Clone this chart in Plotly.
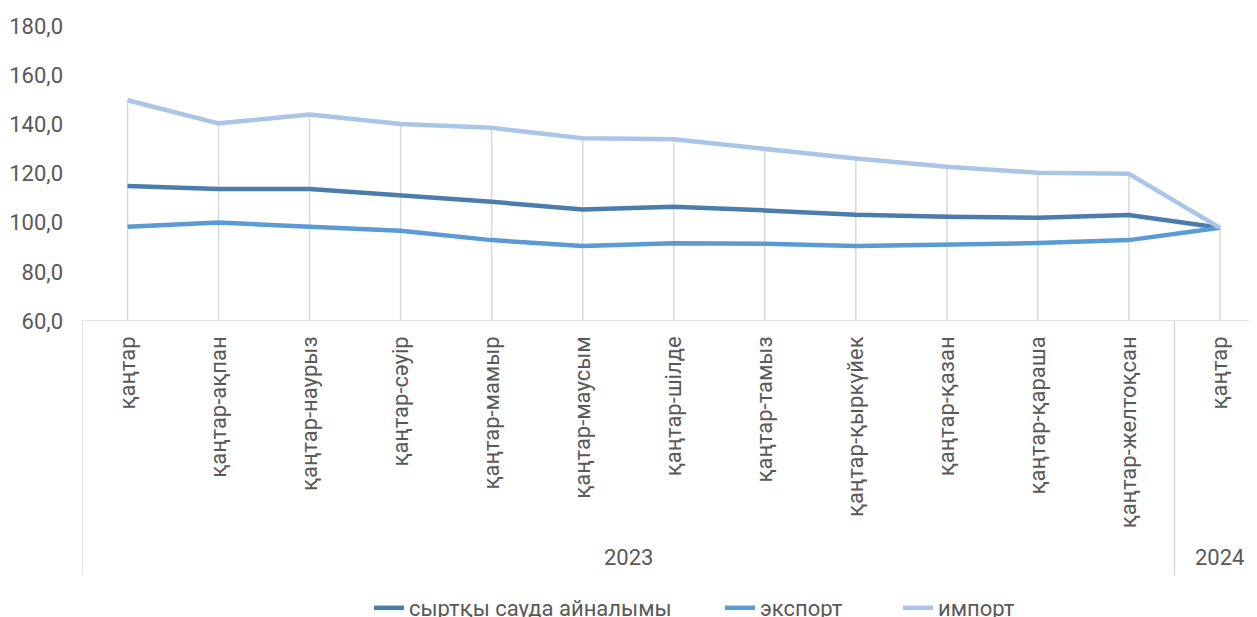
import plotly.graph_objects as go

months = ["қаңтар", "қаңтар-ақпан", "қаңтар-наурыз", "қаңтар-сәуір", "қаңтар-мамыр",
          "қаңтар-маусым", "қаңтар-шілде", "қаңтар-тамыз", "қаңтар-қыркүйек",
          "қаңтар-қазан", "қаңтар-қараша", "қаңтар-желтоқсан", "қаңтар"]
year_labels = ["2023", "2024"]
year_counts = [12, 1]

turnover = [114.9, 113.7, 113.7, 111.3, 108.5, 105.4, 106.5, 105.0, 103.2, 102.4, 102.0, 103.1, 97.9]
export = [98.3, 100.1, 98.3, 96.7, 92.9, 90.5, 91.6, 91.4, 90.5, 91.2, 91.7, 92.9, 97.9]
imports = [149.8, 140.4, 144.0, 140.1, 138.6, 134.3, 133.9, 129.9, 126.1, 122.7, 120.3, 119.9, 97.9]

series_names = ["сыртқы сауда айналымы", "экспорт", "импорт"]
series_colors = ["#4a7cad", "#5b9bd5", "#abc5e7"]

y_min, y_max = 60, 180
TXT = "#595959"
GRID = "#d9d9d9"
FS = 22
# page body has an 8px margin, so the figure is slightly smaller than the window
W, H = 1249, 609
PLOT_H = 295

x = list(range(len(months)))
fig = go.Figure()

# drop lines from highest point to axis
dx, dy = [], []
for i in x:
    top = max(turnover[i], export[i], imports[i])
    dx += [i, i, None]
    dy += [y_min, top, None]
fig.add_trace(go.Scatter(x=dx, y=dy, mode="lines", line=dict(color=GRID, width=1.5),
                         showlegend=False, hoverinfo="skip"))

legend_ids = ["legend", "legend2", "legend3"]
for name, vals, col, lg in zip(series_names, [turnover, export, imports], series_colors, legend_ids):
    fig.add_trace(go.Scatter(x=x, y=vals, mode="lines", name=name, legend=lg,
                             line=dict(color=col, width=4.5)))

# group separators and year labels
shapes = []
annotations = []
start = -0.5
bottom = -254 / PLOT_H
shapes.append(dict(type="line", xref="x", yref="paper", x0=start, x1=start, y0=0, y1=bottom,
                   line=dict(color=GRID, width=1.5)))
for lab, cnt in zip(year_labels, year_counts):
    end = start + cnt
    shapes.append(dict(type="line", xref="x", yref="paper", x0=end, x1=end, y0=0, y1=bottom,
                       line=dict(color=GRID, width=1.5)))
    annotations.append(dict(x=(start + end) / 2, y=-236 / PLOT_H, xref="x", yref="paper",
                            text=lab, showarrow=False, font=dict(size=FS, color=TXT),
                            xanchor="center", yanchor="middle"))
    start = end
# axis line
shapes.append(dict(type="line", xref="paper", yref="y", x0=0, x1=1, y0=y_min, y1=y_min,
                   line=dict(color=GRID, width=1.5)))

legend_px = [361, 712, 890]
legend_common = dict(orientation="h", xref="container", yref="container", xanchor="left",
                     yanchor="middle", y=(H - 600) / H, font=dict(size=FS, color=TXT),
                     bgcolor="rgba(0,0,0,0)", borderwidth=0)

fig.update_layout(
    width=W, height=H,
    margin=dict(l=74, r=0, t=18, b=H - 18 - PLOT_H, autoexpand=False),
    paper_bgcolor="white", plot_bgcolor="white",
    font=dict(family="Roboto", size=FS, color=TXT),
    separators=", ",
    shapes=shapes, annotations=annotations,
    legend=dict(x=legend_px[0] / W, **legend_common),
    legend2=dict(x=legend_px[1] / W, **legend_common),
    legend3=dict(x=legend_px[2] / W, **legend_common),
    xaxis=dict(range=[-0.5, 12.407], tickmode="array", tickvals=x, ticktext=months,
               tickangle=-90, showgrid=False, zeroline=False, showline=False, ticks="",
               tickfont=dict(size=FS, color=TXT), ticklabelstandoff=10, fixedrange=True,
               automargin=False),
    yaxis=dict(range=[y_min, y_max], dtick=20, tick0=60, tickformat=".1f",
               showgrid=False, zeroline=False, showline=False, ticks="",
               tickfont=dict(size=FS, color=TXT), ticklabelstandoff=18, fixedrange=True,
               automargin=False),
)

fig.write_html("out.html")
